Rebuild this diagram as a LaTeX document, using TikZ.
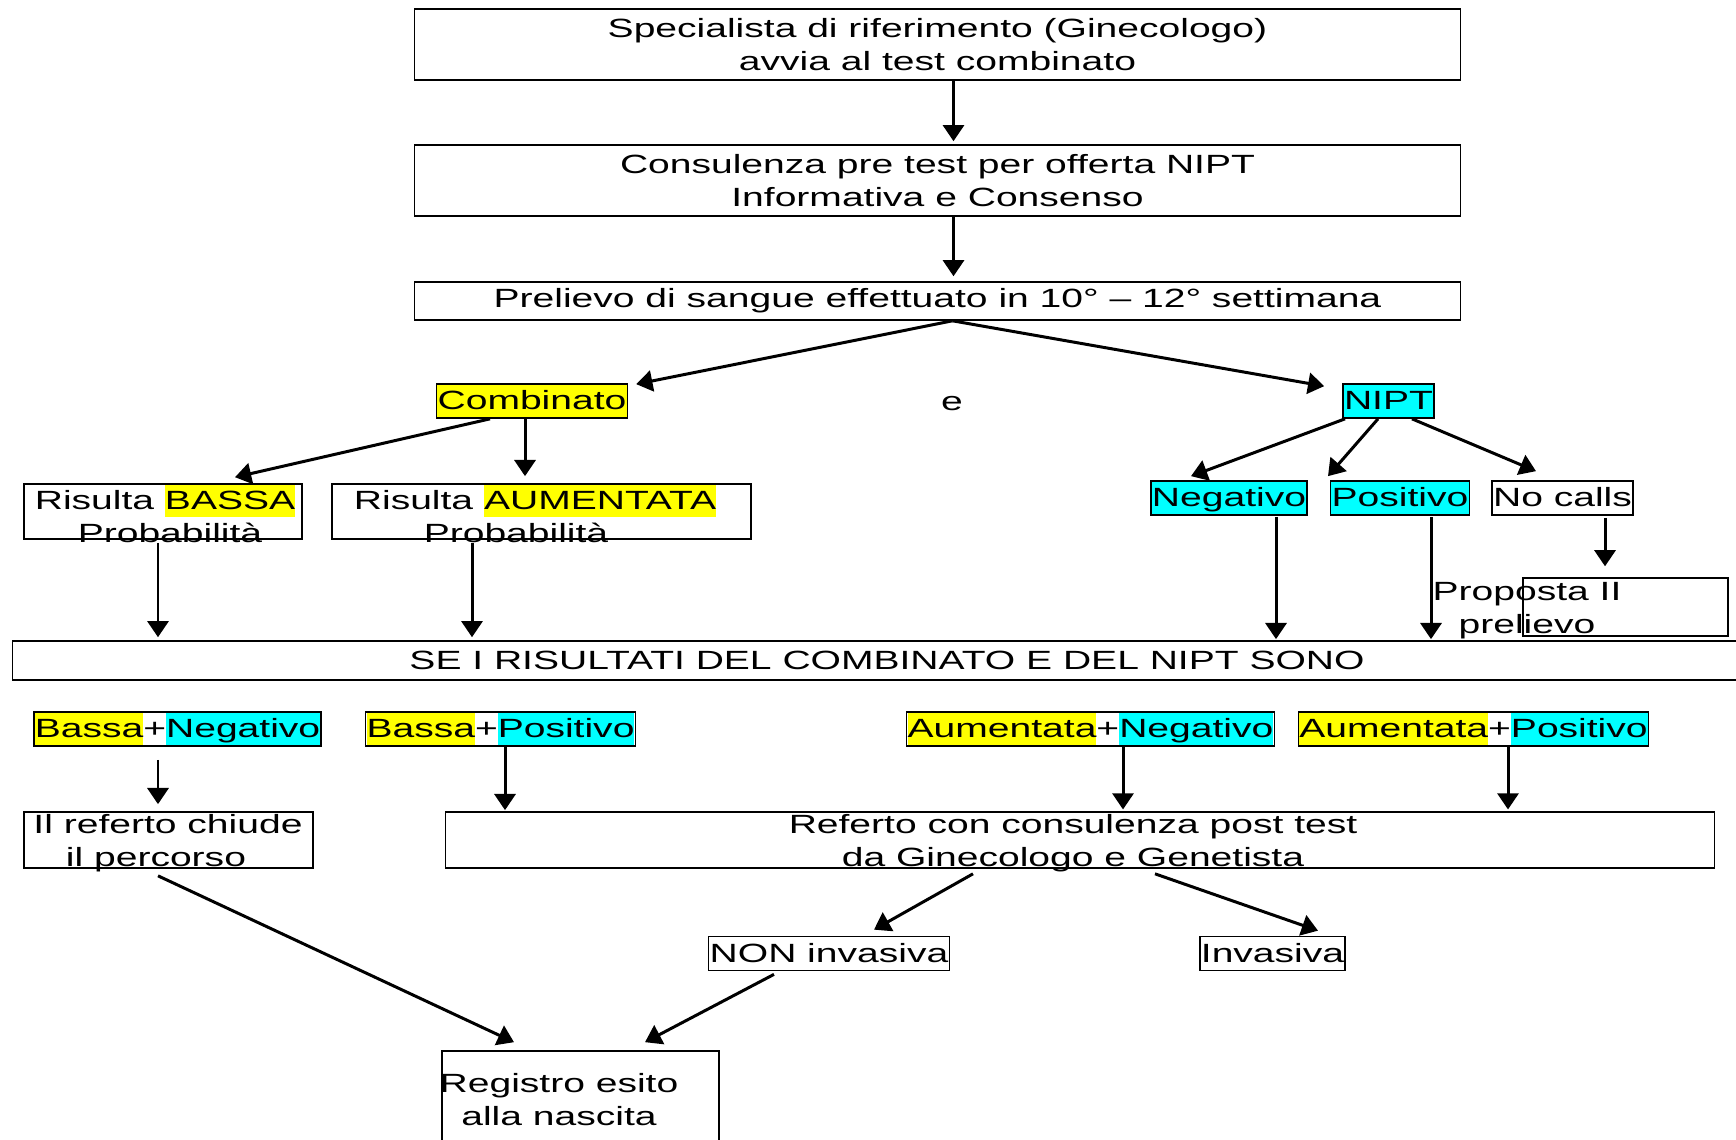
\documentclass[tikz,border=0pt]{standalone}
\usepackage{fontspec}
\setmainfont{Liberation Sans}[FakeStretch=1.48]
\usetikzlibrary{arrows.meta,calc}
\definecolor{hiyellow}{RGB}{255,255,0}
\definecolor{hicyan}{RGB}{0,255,255}
\newcommand{\hstrut}{\rule[-2pt]{0pt}{9.1pt}}
\newcommand{\hly}[1]{{\fboxsep=0pt\colorbox{hiyellow}{\hstrut #1}}}
\newcommand{\hlc}[1]{{\fboxsep=0pt\colorbox{hicyan}{\hstrut #1}}}

\begin{document}
\begin{tikzpicture}[x=0.01cm,y=-0.01cm,
  every node/.style={font=\fontsize{7.5}{9.4}\selectfont,inner sep=0pt},
  box/.style={draw,line width=0.45pt,align=center},
  tag/.style={draw,line width=0.45pt,inner sep=0.3pt,text height=7.1pt,text depth=2pt},
  arr/.style={-{Triangle[length=4.6pt,width=6pt]},line width=0.85pt}]
   \useasboundingbox (0,0) rectangle (1736,1139);
   \clip (0,0) rectangle (1736,1139);
   \node (spec) [box,minimum width=10.45cm,minimum height=0.71cm] at (937.5,44.5) {Specialista di riferimento (Ginecologo)\\avvia al test combinato};
   \node (cons) [box,minimum width=10.45cm,minimum height=0.71cm] at (937.5,180.5) {Consulenza pre test per offerta NIPT\\Informativa e Consenso};
   \node (prel) [box,minimum width=10.45cm,minimum height=0.38cm] at (937.5,301) {\rule{0pt}{0.09cm}Prelievo di sangue effettuato in 10° – 12° settimana};
   \node (comb) [tag,fill=hiyellow] at (532,401) {Combinato};
   \node (e) at (952,404) {e};
   \node (nipt) [tag,fill=hicyan] at (1388.5,401) {NIPT};
   \node (bassa) [box,minimum width=2.78cm,minimum height=0.55cm] at (163,511.5) {};
   \node (bassatxt) [align=center] at (165,514) {Risulta \hly{BASSA}\\\rule{0.1cm}{0pt}Probabilità};
   \node (aum) [box,minimum width=4.19cm,minimum height=0.55cm] at (541.5,511.5) {};
   \node (aumtxt) [align=center] at (535,514) {Risulta \hly{AUMENTATA}\\Probabilità\rule{0.38cm}{0pt}};
   \node (neg) [tag,fill=hicyan] at (1229,498) {Negativo};
   \node (pos) [tag,fill=hicyan] at (1400,498) {Positivo};
   \node (nocalls) [tag] at (1562.5,498) {No calls};
   \node (prop) [box,minimum width=2.05cm,minimum height=0.58cm] at (1625.5,607) {};
   \node (proptxt) [align=center] at (1527,611) {Proposta II\\prelievo};
   \node (se) [box,minimum width=17.48cm,minimum height=0.39cm] at (887,660.5) {SE I RISULTATI DEL COMBINATO E DEL NIPT SONO};
   \node (bn) [tag] at (177.5,729) {\hly{Bassa}+\hlc{Negativo}};
   \node (bp) [tag] at (500.5,729) {\hly{Bassa}+\hlc{Positivo}};
   \node (an) [tag] at (1090.5,729) {\hly{Aumentata}+\hlc{Negativo}};
   \node (ap) [tag] at (1473.5,729) {\hly{Aumentata}+\hlc{Positivo}};
   \node (chiude) [box,minimum width=2.89cm,minimum height=0.56cm] at (168.5,840) {};
   \node (chiudetxt) [align=center] at (168,843) {Il referto chiude\\il percorso\rule{0.24cm}{0pt}};
   \node (refc) [box,minimum width=12.68cm,minimum height=0.56cm] at (1080,840) {};
   \node (refctxt) [align=center] at (1073,843) {Referto con consulenza post test\\da Ginecologo e Genetista};
   \node (noninv) [tag] at (829,953.5) {NON invasiva};
   \node (inv) [tag] at (1272.5,953.5) {Invasiva};
   \node (reg) [box,minimum width=2.77cm,minimum height=1.09cm] at (580.5,1105.5) {};
   \node (regtxt) [align=center] at (559,1100) {Registro esito\\alla nascita};
   \draw[arr,shorten >=0.85pt] ($(spec.south)+(16,0)$) coordinate (a1) -- (a1 |- cons.north);
   \draw[arr,shorten >=1.4pt] ($(cons.south)+(16,0)$) coordinate (a2) -- (a2 |- prel.north);
   \draw[arr] ($(prel.south)+(15,0)$) -- ($(comb.north east)+(8,1)$);
   \draw[arr] ($(prel.south)+(15,0)$) -- ($(nipt.north west)+(-18,3)$);
   \draw[arr] ($(comb.south)+(-42,0)$) -- ($(bassa.north)+(72,-6)$);
   \draw[arr,shorten >=2pt] ($(comb.south)+(-7,0)$) coordinate (a6) -- (a6 |- aum.north);
   \draw[arr,shorten >=0.85pt] ($(bassa.south)+(-5,3)$) coordinate (a7) -- (a7 |- se.north);
   \draw[arr,shorten >=0.85pt] ($(aum.south)+(-69.5,3)$) coordinate (a8) -- (a8 |- se.north);
   \draw[arr] ($(nipt.south)+(-43.5,0)$) -- ($(neg.north)+(-38,-4)$);
   \draw[arr] ($(nipt.south)+(-10.5,0)$) -- ($(pos.north)+(-72,-4)$);
   \draw[arr] ($(nipt.south)+(23.5,0)$) -- ($(nocalls.north)+(-26.5,-9)$);
   \draw[arr,shorten >=0.3pt] ($(neg.south)+(47,1)$) coordinate (a12) -- (a12 |- se.north);
   \draw[arr,shorten >=0.3pt] ($(pos.south)+(31,1)$) coordinate (a13) -- (a13 |- se.north);
   \draw[arr,shorten >=3.1pt] ($(nocalls.south)+(42.5,2)$) coordinate (a14) -- (a14 |- prop.north);
   \draw[arr,shorten >=2pt] ($(bn.south)+(-19.5,13)$) coordinate (a15) -- (a15 |- chiude.north);
   \draw[arr,shorten >=0.3pt] ($(bp.south)+(4.5,0)$) coordinate (a16) -- (a16 |- refc.north);
   \draw[arr,shorten >=0.5pt] ($(an.south)+(32.5,0)$) coordinate (a17) -- (a17 |- refc.north);
   \draw[arr,shorten >=0.5pt] ($(ap.south)+(34.5,0)$) coordinate (a18) -- (a18 |- refc.north);
   \draw[arr] ($(refc.south)+(-107,5)$) -- ($(noninv.north)+(45,-6)$);
   \draw[arr] ($(refc.south)+(75,5)$) -- ($(inv.north)+(45.5,-5)$);
   \draw[arr] ($(noninv.south)+(-55,3)$) -- ($(reg.north)+(64.5,-8)$);
   \draw[arr] ($(chiude.south)+(-10.5,7)$) -- ($(reg.north)+(-66.5,-8)$);
\end{tikzpicture}
\end{document}
